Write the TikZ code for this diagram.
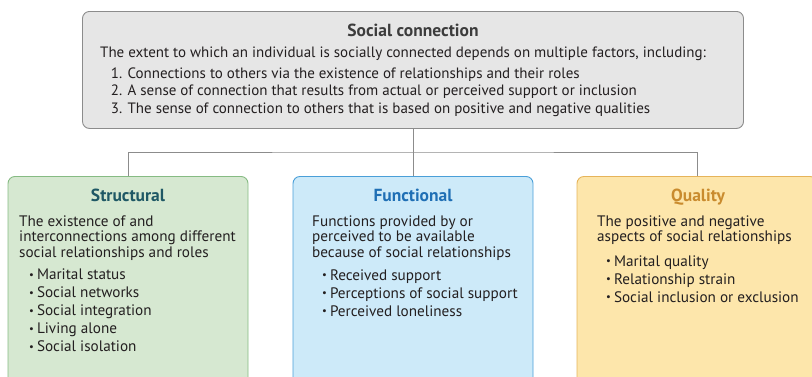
\documentclass[tikz,border=0pt]{standalone}
\usepackage{fontspec}
\setmainfont{PT Sans}
\definecolor{grigiofondo}{HTML}{E6E6E6}
\definecolor{grigiobordo}{HTML}{8C8C8C}
\definecolor{grigiotitolo}{HTML}{3C3C3C}
\definecolor{nero}{HTML}{231F20}
\definecolor{verdefondo}{HTML}{D6E8D1}
\definecolor{verdebordo}{HTML}{86BB83}
\definecolor{verdetitolo}{HTML}{1F5865}
\definecolor{azzurrofondo}{HTML}{CDEAF9}
\definecolor{azzurrobordo}{HTML}{4A9FD8}
\definecolor{azzurrotitolo}{HTML}{1F6FB5}
\definecolor{giallofondo}{HTML}{FDE6AB}
\definecolor{giallobordo}{HTML}{E6B45A}
\definecolor{giallotitolo}{HTML}{C98B2E}
\newcommand{\punto}{\raisebox{1.5pt}{\scalebox{0.7}{\textbullet}}\hspace{3pt}}
\begin{document}
\begin{tikzpicture}[x=1pt,y=-1pt,font=\fontsize{15}{16}\selectfont,text=nero,
  riquadro/.style={rounded corners=7pt,line width=0.9pt,anchor=north,minimum width=240pt,minimum height=240pt},
  titolo/.style={anchor=base,inner sep=0pt,font=\fontsize{17.5}{18}\selectfont\bfseries},
  testo/.style={anchor=base west,align=left,inner sep=0pt,font=\fontsize{15.2}{15.7}\selectfont},
  elenco/.style={anchor=base west,align=left,inner sep=0pt,font=\fontsize{15.2}{18}\selectfont},
  linea/.style={draw=grigiobordo,line width=0.8pt}]
  \clip (0,0) rectangle (812,376);
  \node[riquadro,fill=grigiofondo,draw=grigiobordo,minimum width=661pt,minimum height=117pt] (conn) at (413,11) {};% riquadro superiore
  \node[riquadro,fill=verdefondo,draw=verdebordo] (strut) at (128,176) {};% riquadro verde
  \node[riquadro,fill=azzurrofondo,draw=azzurrobordo] (funz) at (413,176) {};% riquadro azzurro
  \node[riquadro,fill=giallofondo,draw=giallobordo] (qual) at (697,176) {};% riquadro giallo
  \coordinate (snodo) at (413,152);
  \draw[linea] (conn.south) -- (funz.north);% linea centrale
  \draw[linea] (strut.north) |- (snodo) -| (qual.north);% linea orizzontale
  % testi (ancora base = ultima riga)
  \node[titolo,text=grigiotitolo] (conntit) at (413,36) {Social connection};
  \node[testo,font=\fontsize{15}{17.5}\selectfont] (conntxt) at (100,57.7) {The extent to which an individual is socially connected depends on multiple factors, including:};
  \node[elenco,font=\fontsize{15}{17.5}\selectfont] (connlist) at (110.7,113) {1. Connections to others via the existence of relationships and their roles\\2. A sense of connection that results from actual or perceived support or inclusion\\3. The sense of connection to others that is based on positive and negative qualities};
  \node[titolo,text=verdetitolo] (struttit) at (128,201.7) {Structural};
  \node[testo] (struttxt) at (19,257.4) {The existence of and\\interconnections among different\\social relationships and roles};
  \node[elenco] (strutlist) at (29,351.5) {\punto Marital status\\\punto Social networks\\\punto Social integration\\\punto Living alone\\\punto Social isolation};
  \node[titolo,text=azzurrotitolo] (funztit) at (413,201.7) {Functional};
  \node[testo] (funztxt) at (312,257.4) {Functions provided by or\\perceived to be available\\because of social relationships};
  \node[elenco] (funzlist) at (322,316) {\punto Received support\\\punto Perceptions of social support\\\punto Perceived loneliness};
  \node[titolo,text=giallotitolo] (qualtit) at (698,201.7) {Quality};
  \node[testo] (qualtxt) at (597,241.7) {The positive and negative\\aspects of social relationships};
  \node[elenco] (quallist) at (606,302.3) {\punto Marital quality\\\punto Relationship strain\\\punto Social inclusion or exclusion};
\end{tikzpicture}
\end{document}
